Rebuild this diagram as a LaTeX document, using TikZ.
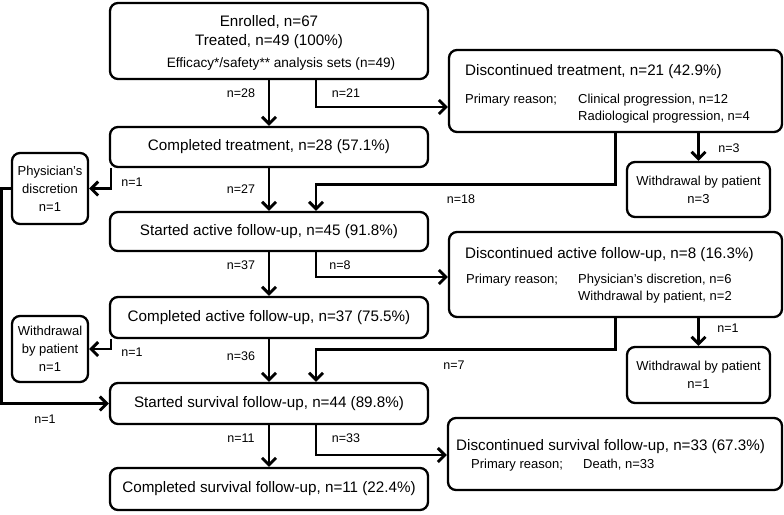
\documentclass[tikz,border=0pt]{standalone}
\usepackage{fontspec}
\setmainfont{Liberation Sans}
\usetikzlibrary{arrows.meta}
\begin{document}
\begin{tikzpicture}[x=1pt,y=-1pt,
  box/.style={draw, line width=2.3pt, rounded corners=8pt, inner sep=0pt},
  mainbox/.style={box, big, minimum width=318pt},
  rbox/.style={box, minimum width=333pt},
  wbox/.style={box, sm, align=center, minimum width=143pt},
  lbox/.style={box, sm, align=center, minimum width=76pt},
  conn/.style={line width=2.9pt, -{Straight Barb[length=7pt,width=14pt]}},
  big/.style={font=\fontsize{15.2}{18}\selectfont},
  mid/.style={font=\fontsize{13.6}{16}\selectfont},
  sm/.style={font=\fontsize{13}{18}\selectfont},
  txt/.style={inner sep=0pt, anchor=west},
  lab/.style={font=\fontsize{12.5}{15}\selectfont, inner sep=0pt},
]
\useasboundingbox (0,0) rectangle (784,514);

% main column
\node[mainbox, minimum height=76pt] (enr) at (269,41) {};
\node[big, inner sep=0pt] (enr1) at (269,22) {Enrolled, n=67};
\node[big, inner sep=0pt] (enr2) at (269,42) {Treated, n=49 (100\%)};
\node[mid, inner sep=0pt] (enr3) at (281,64) {Efficacy*/safety** analysis sets (n=49)};

\node[mainbox, minimum height=40pt] (ct) at (269,147) {Completed treatment, n=28 (57.1\%)};
\node[mainbox, minimum height=39pt] (saf) at (269,231.5) {Started active follow-up, n=45 (91.8\%)};
\node[mainbox, minimum height=41pt] (caf) at (269,317.5) {Completed active follow-up, n=37 (75.5\%)};
\node[mainbox, minimum height=41pt] (ssf) at (269,403.5) {Started survival follow-up, n=44 (89.8\%)};
\node[mainbox, minimum height=42pt] (csf) at (269,489) {Completed survival follow-up, n=11 (22.4\%)};

% right column
\node[rbox, minimum height=82pt] (dt) at (615.5,91) {};
\node[big, txt] (dt1) at (465,72) {Discontinued treatment, n=21 (42.9\%)};
\node[sm, txt] (dt2) at (465,100) {Primary reason;};
\node[sm, txt] (dt3) at (578,100) {Clinical progression, n=12};
\node[sm, txt] (dt4) at (578,117) {Radiological progression, n=4};

\node[rbox, minimum height=85pt] (daf) at (615.5,274.5) {};
\node[big, txt] (daf1) at (465,255) {Discontinued active follow-up, n=8 (16.3\%)};
\node[sm, txt] (daf2) at (466,280) {Primary reason;};
\node[sm, txt] (daf3) at (578,280) {Physician's discretion, n=6};
\node[sm, txt] (daf4) at (578,297) {Withdrawal by patient, n=2};

\node[box, minimum width=334pt, minimum height=72pt] (dsf) at (615,454) {};
\node[big, txt] (dsf1) at (456,447) {Discontinued survival follow-up, n=33 (67.3\%)};
\node[sm, txt] (dsf2) at (471,465) {Primary reason;};
\node[sm, txt] (dsf3) at (583,465) {Death, n=33};

\node[wbox, minimum height=55pt] (w1) at (698.5,189.5) {Withdrawal by patient\\n=3};
\node[wbox, minimum height=56pt] (w2) at (698.5,375) {Withdrawal by patient\\n=1};

% left column
\node[lbox, minimum height=71pt] (pd) at (50,188.5) {Physician's\\discretion\\n=1};
\node[lbox, minimum height=66pt] (wl) at (50,349) {Withdrawal\\by patient\\n=1};

% connectors
\draw[conn] (enr.south) -- (ct.north);
\draw[conn] ([xshift=47pt]enr.south) |- ([yshift=-16pt]dt.west);
\draw[conn] ([xshift=-158pt]ct.south) |- (pd.east);
\draw[conn] (ct.south) -- (saf.north);
\draw[conn] (dt.south) -- ++(0,51) -| ([xshift=47pt]saf.north);
\draw[conn] (dt.south -| w1.north) -- (w1.north);
\draw[conn] (saf.south) -- (caf.north);
\draw[conn] ([xshift=47pt]saf.south) |- ([yshift=-2.5pt]daf.west);
\draw[conn] ([xshift=-158pt]caf.south) |- (wl.east);
\draw[conn] (caf.south) -- (ssf.north);
\draw[conn] (daf.south) -- ++(0,31) -| ([xshift=47pt]ssf.north);
\draw[conn] (daf.south -| w2.north) -- (w2.north);
\draw[conn] (pd.west) -- ++(-9,0) |- (ssf.west);
\draw[conn] (ssf.south) -- (csf.north);
\draw[conn] ([xshift=47pt]ssf.south) |- ([yshift=-1pt]dsf.west);

% labels
\node[lab] (l28) at (241,93) {n=28};
\node[lab] (l21) at (346,93) {n=21};
\node[lab] (l1a) at (132,182) {n=1};
\node[lab] (l27) at (241,189) {n=27};
\node[lab] (l18) at (461,199) {n=18};
\node[lab] (l3) at (729,148) {n=3};
\node[lab] (l37) at (241,265) {n=37};
\node[lab] (l8) at (340,265) {n=8};
\node[lab] (l1b) at (132,352) {n=1};
\node[lab] (l36) at (241,356) {n=36};
\node[lab] (l7) at (454,365) {n=7};
\node[lab] (l1c) at (728,328) {n=1};
\node[lab] (l1d) at (45,419) {n=1};
\node[lab] (l11) at (241,438) {n=11};
\node[lab] (l33) at (346,438) {n=33};
\end{tikzpicture}
\end{document}
